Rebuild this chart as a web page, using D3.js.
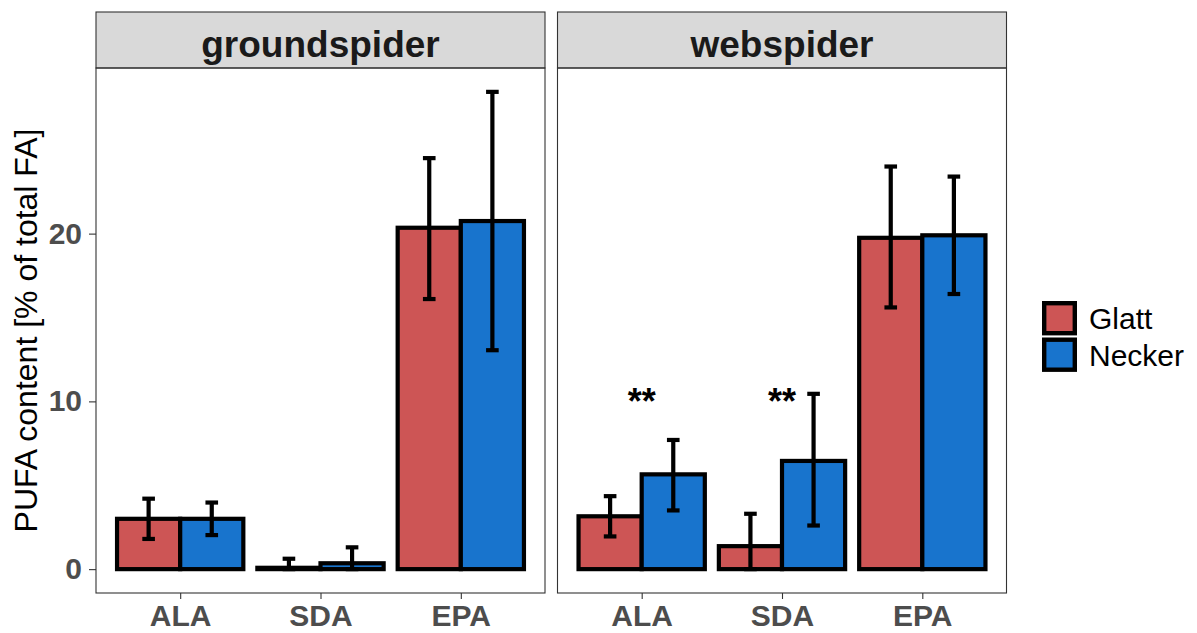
<!DOCTYPE html>
<html>
<head>
<meta charset="utf-8">
<script src="https://cdn.jsdelivr.net/npm/d3@7"></script>
<style>
  html, body { margin: 0; padding: 0; background: #ffffff; }
  svg { display: block; font-family: "Liberation Sans", Arial, sans-serif; }
</style>
</head>
<body>
<svg id="chart" width="1197" height="633"></svg>
<script>
// Fatty acid categories and facets
const categories = ["ALA", "SDA", "EPA"];
const panelNames = ["groundspider", "webspider"];
const groups = ["Glatt", "Necker"];
const groupColors = ["#CD5555", "#1874CD"];
const yTicks = [0, 10, 20];

// groundspider: means and error-bar limits (% of total FA)
const groundGlattMean = [3.0, 0.08, 20.35];
const groundGlattLow = [1.8, 0, 16.1];
const groundGlattHigh = [4.2, 0.62, 24.5];
const groundNeckerMean = [3.0, 0.35, 20.75];
const groundNeckerLow = [2.03, 0, 13.05];
const groundNeckerHigh = [3.97, 1.3, 28.45];

// webspider: means and error-bar limits (% of total FA)
const webGlattMean = [3.15, 1.37, 19.75];
const webGlattLow = [1.95, 0, 15.6];
const webGlattHigh = [4.35, 3.3, 24.0];
const webNeckerMean = [5.65, 6.45, 19.9];
const webNeckerLow = [3.5, 2.6, 16.4];
const webNeckerHigh = [7.7, 10.45, 23.4];

// significance marks above webspider categories
const webSignif = ["**", "**", ""];
const signifY = 10.3;

const panelData = [
  {
    name: panelNames[0],
    series: [
      { mean: groundGlattMean, low: groundGlattLow, high: groundGlattHigh },
      { mean: groundNeckerMean, low: groundNeckerLow, high: groundNeckerHigh }
    ],
    signif: null
  },
  {
    name: panelNames[1],
    series: [
      { mean: webGlattMean, low: webGlattLow, high: webGlattHigh },
      { mean: webNeckerMean, low: webNeckerLow, high: webNeckerHigh }
    ],
    signif: webSignif
  }
];

const svg = d3.select("#chart");

// layout
const panelTop = 68, panelBottom = 593;
const stripTop = 12;
const panelX = [[96, 545], [557.5, 1006.5]];

const yMax = d3.max([groundGlattHigh, groundNeckerHigh, webGlattHigh, webNeckerHigh].flat());
const y = d3.scaleLinear()
  .domain([-0.05 * yMax, yMax * 1.05])
  .range([panelBottom, panelTop]);

const axisGrey = "#333333";
const textGrey = "#4D4D4D";

panelData.forEach((p, pi) => {
  const [x0, x1] = panelX[pi];
  const x = d3.scalePoint().domain(categories).range([x0, x1]).padding(0.6);
  const step = x.step();
  const barW = 0.45 * step;

  const g = svg.append("g");

  // panel background
  g.append("rect")
    .attr("x", x0).attr("y", panelTop)
    .attr("width", x1 - x0).attr("height", panelBottom - panelTop)
    .attr("fill", "#ffffff");

  // strip
  g.append("rect")
    .attr("x", x0).attr("y", stripTop)
    .attr("width", x1 - x0).attr("height", panelTop - stripTop)
    .attr("fill", "#D9D9D9").attr("stroke", axisGrey).attr("stroke-width", 1.1);
  g.append("text")
    .attr("x", (x0 + x1) / 2).attr("y", 57)
    .attr("text-anchor", "middle")
    .attr("font-size", 37).attr("font-weight", "bold")
    .attr("fill", "#1A1A1A")
    .text(p.name);

  // bars
  p.series.forEach((s, si) => {
    const offset = si === 0 ? -barW : 0;
    g.selectAll(null)
      .data(categories)
      .enter().append("rect")
      .attr("x", d => x(d) + offset)
      .attr("y", (d, i) => y(s.mean[i]))
      .attr("width", barW)
      .attr("height", (d, i) => y(0) - y(s.mean[i]))
      .attr("fill", groupColors[si])
      .attr("stroke", "#000000")
      .attr("stroke-width", 4.2);
  });

  // error bars
  p.series.forEach((s, si) => {
    const cx = d => x(d) + (si === 0 ? -barW / 2 : barW / 2);
    const capHalf = barW * 0.1;
    const eb = g.selectAll(null).data(categories).enter().append("g")
      .attr("stroke", "#000000").attr("stroke-width", 4.2).attr("fill", "none");
    eb.append("line")
      .attr("x1", cx).attr("x2", cx)
      .attr("y1", (d, i) => y(s.low[i])).attr("y2", (d, i) => y(s.high[i]));
    eb.append("line")
      .attr("x1", d => cx(d) - capHalf).attr("x2", d => cx(d) + capHalf)
      .attr("y1", (d, i) => y(s.high[i])).attr("y2", (d, i) => y(s.high[i]));
    eb.append("line")
      .attr("x1", d => cx(d) - capHalf).attr("x2", d => cx(d) + capHalf)
      .attr("y1", (d, i) => y(s.low[i])).attr("y2", (d, i) => y(s.low[i]));
  });

  // significance labels
  if (p.signif) {
    g.selectAll(null).data(categories).enter().append("text")
      .attr("x", d => x(d))
      .attr("y", y(signifY))
      .attr("dy", "0.5em")
      .attr("text-anchor", "middle")
      .attr("font-size", 36).attr("font-weight", "bold")
      .attr("fill", "#000000")
      .text((d, i) => p.signif[i]);
  }

  // panel border
  g.append("rect")
    .attr("x", x0).attr("y", panelTop)
    .attr("width", x1 - x0).attr("height", panelBottom - panelTop)
    .attr("fill", "none").attr("stroke", axisGrey).attr("stroke-width", 1.1);

  // x axis
  const xAxis = g.append("g")
    .attr("transform", `translate(0,${panelBottom})`)
    .call(d3.axisBottom(x).tickSize(6).tickPadding(6));
  xAxis.select(".domain").remove();
  xAxis.selectAll(".tick line").attr("stroke", axisGrey).attr("stroke-width", 1.1);
  xAxis.selectAll(".tick text")
    .attr("font-size", 30).attr("font-weight", "bold")
    .attr("font-family", "'Liberation Sans', Arial, sans-serif")
    .attr("fill", textGrey);

  // y axis on the first panel only
  if (pi === 0) {
    const yAxis = g.append("g")
      .attr("transform", `translate(${x0},0)`)
      .call(d3.axisLeft(y).tickValues(yTicks).tickSize(7).tickPadding(7));
    yAxis.select(".domain").remove();
    yAxis.selectAll(".tick line").attr("stroke", axisGrey).attr("stroke-width", 1.1);
    yAxis.selectAll(".tick text")
      .attr("font-size", 30).attr("font-weight", "bold")
      .attr("font-family", "'Liberation Sans', Arial, sans-serif")
      .attr("fill", textGrey);
  }
});

// y axis title
svg.append("text")
  .attr("transform", `translate(37,${(panelTop + panelBottom) / 2}) rotate(-90)`)
  .attr("text-anchor", "middle")
  .attr("font-size", 32)
  .attr("fill", "#000000")
  .text("PUFA content [% of total FA]");

// legend
const legend = svg.append("g").attr("transform", "translate(1042,301)");
groups.forEach((name, i) => {
  const ky = i * 36.5;
  legend.append("rect")
    .attr("x", 2.2).attr("y", ky + 2.2)
    .attr("width", 30.6).attr("height", 30)
    .attr("fill", groupColors[i])
    .attr("stroke", "#000000").attr("stroke-width", 4.4);
  legend.append("text")
    .attr("x", 47).attr("y", ky + 28)
    .attr("font-size", 30)
    .attr("fill", "#000000")
    .text(name);
});
</script>
</body>
</html>
